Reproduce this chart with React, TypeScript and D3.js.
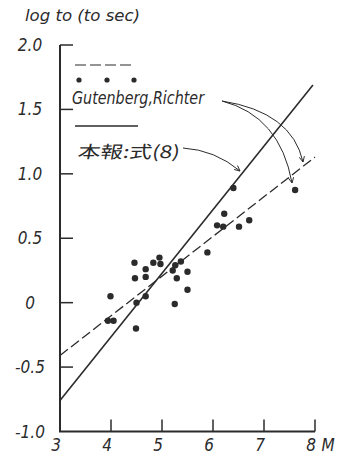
import * as d3 from 'd3';

// magnitude M and log t0
const obsM = [4.46, 4.47, 4.68, 4.68, 4.83, 4.95, 4.97, 5.21, 5.26, 5.37, 5.29, 5.5, 5.5, 5.25,
  4.68, 4.5, 3.99, 3.94, 4.05, 4.49, 5.89, 6.4, 6.22, 6.08, 6.2, 6.51, 6.71, 7.61];
const obsLog = [0.31, 0.19, 0.26, 0.2, 0.31, 0.35, 0.3, 0.25, 0.29, 0.32, 0.19, 0.24, 0.1, -0.01,
  0.05, 0.0, 0.05, -0.14, -0.14, -0.2, 0.39, 0.89, 0.69, 0.6, 0.59, 0.59, 0.64, 0.875];

// 本報 式(8) (solid) and Gutenberg-Richter (dashed)
const solidM = [3, 7.96];
const solidLog = [-0.76, 1.69];
const grM = [3, 8];
const grLog = [-0.41, 1.13];

const xTicks = [3, 4, 5, 6, 7, 8];
const yTicks = [-1.0, -0.5, 0, 0.5, 1.0, 1.5, 2.0];
const yTickLabels = ['-1.0', '-0.5', '0', '0.5', '1.0', '1.5', '2.0'];

const ink = '#2b2b2b';
const font = "'DejaVu Sans Condensed', 'Liberation Sans Narrow', sans-serif";

const x = d3.scaleLinear().domain([3, 8]).range([60, 315]);
const y = d3.scaleLinear().domain([-1, 2]).range([431.5, 45]);

function seg(ms: number[], vs: number[]) {
  return d3.line<[number, number]>()
    .x(d => x(d[0]))
    .y(d => y(d[1]))(ms.map((m, i) => [m, vs[i]] as [number, number])) || '';
}

// curved pointer with a small open arrowhead
function Pointer({ p0, c, p1 }: { p0: number[]; c: number[]; p1: number[] }) {
  const a = Math.atan2(p1[1] - c[1], p1[0] - c[0]);
  const L = 6, s = 0.45;
  const h1 = [p1[0] - L * Math.cos(a - s), p1[1] - L * Math.sin(a - s)];
  const h2 = [p1[0] - L * Math.cos(a + s), p1[1] - L * Math.sin(a + s)];
  return (
    <g fill="none" stroke={ink} strokeWidth={1}>
      <path d={`M${p0[0]},${p0[1]} Q${c[0]},${c[1]} ${p1[0]},${p1[1]}`} />
      <path d={`M${h1[0]},${h1[1]} L${p1[0]},${p1[1]} L${h2[0]},${h2[1]}`} />
    </g>
  );
}

export default function App() {
  return (
    <svg width={344} height={466} style={{ position: 'absolute', left: 0, top: 0, background: '#fff' }}
      fontFamily={font} fontStyle="italic">
      {/* title */}
      <text x={25} y={21} fontSize={16} fill={ink} textLength={115} lengthAdjust="spacingAndGlyphs">log to (to sec)</text>

      {/* axes */}
      <g stroke={ink} strokeWidth={2} fill="none">
        <path d={`M${x(3)},${y(2)} V${y(-1)} H${x(8)}`} />
        {yTicks.filter(t => t > -1).map(t => (
          <line key={t} x1={x(3)} x2={x(3) + 13} y1={y(t)} y2={y(t)} strokeWidth={1.5} />
        ))}
        {xTicks.filter(t => t > 3).map(t => (
          <line key={t} x1={x(t)} x2={x(t)} y1={y(-1)} y2={y(-1) - 12} strokeWidth={1.5} />
        ))}
      </g>
      <g fontSize={17} fill={ink} textAnchor="middle">
        {yTicks.map((t, i) => (
          <text key={t} x={30} y={y(t) + 6}>{yTickLabels[i]}</text>
        ))}
        {xTicks.map(t => (
          <text key={t} x={x(t) - 4} y={451}>{t}</text>
        ))}
        <text x={328} y={451}>M</text>
      </g>

      {/* fitted lines */}
      <path d={seg(solidM, solidLog)} stroke={ink} strokeWidth={1.6} fill="none" />
      <path d={seg(grM, grLog)} stroke={ink} strokeWidth={1.3} fill="none" strokeDasharray="10,4" />

      {/* observations */}
      <g fill={ink}>
        {obsM.map((m, i) => (
          <circle key={i} cx={x(m)} cy={y(obsLog[i])} r={3.2} />
        ))}
      </g>

      {/* legend */}
      <line x1={75} x2={133} y1={65} y2={65} stroke={ink} strokeWidth={1.2} strokeDasharray="11,4" />
      <g fill={ink}>
        {[79, 107, 134].map(cx => <circle key={cx} cx={cx} cy={80} r={2.6} />)}
      </g>
      <text x={72} y={104} fontSize={18} fill={ink} textLength={132} lengthAdjust="spacingAndGlyphs">Gutenberg,Richter</text>
      <line x1={75} x2={138} y1={126} y2={126} stroke={ink} strokeWidth={1.4} />
      <text transform="translate(77,158) skewX(-10)" fontSize={17} fill={ink} fontStyle="normal"
        fontFamily="'Noto Sans CJK JP', sans-serif" textLength={102} lengthAdjust="spacingAndGlyphs">本報:式(8)</text>

      {/* pointers */}
      <Pointer p0={[183, 148]} c={[215, 150]} p1={[240, 171]} />
      <Pointer p0={[222, 101]} c={[292, 112]} p1={[303, 162]} />
      <Pointer p0={[222, 101]} c={[280, 116]} p1={[292, 183]} />
    </svg>
  );
}
